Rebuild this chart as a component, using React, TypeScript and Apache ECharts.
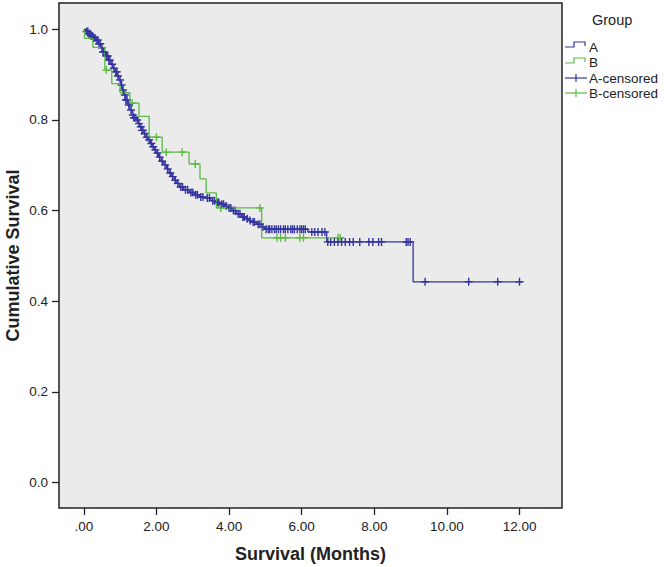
import React, { useEffect, useRef } from "react";
import * as echarts from "echarts";

// Group A Kaplan-Meier steps (months, survival after the event)
const aTimes = [0.05, 0.12, 0.18, 0.25, 0.33, 0.40, 0.47, 0.53, 0.60, 0.69, 0.75, 0.80, 0.86, 0.92, 0.97, 1.02, 1.06, 1.10, 1.16, 1.21, 1.27, 1.33, 1.38, 1.44, 1.49, 1.55, 1.60, 1.66, 1.71, 1.77, 1.83, 1.89, 1.94, 1.99, 2.06, 2.13, 2.20, 2.28, 2.35, 2.42, 2.49, 2.56, 2.63, 2.75, 2.90, 3.05, 3.18, 3.35, 3.50, 3.62, 3.75, 3.88, 3.95, 4.08, 4.20, 4.34, 4.45, 4.55, 4.62, 4.75, 4.90, 4.98, 6.17, 6.69, 9.07];
const aSurv = [0.995, 0.990, 0.985, 0.981, 0.976, 0.968, 0.959, 0.950, 0.941, 0.932, 0.923, 0.914, 0.906, 0.897, 0.888, 0.877, 0.866, 0.855, 0.844, 0.833, 0.822, 0.811, 0.805, 0.800, 0.792, 0.785, 0.777, 0.770, 0.762, 0.756, 0.748, 0.741, 0.734, 0.727, 0.718, 0.709, 0.701, 0.692, 0.683, 0.675, 0.667, 0.660, 0.652, 0.646, 0.640, 0.635, 0.630, 0.628, 0.622, 0.618, 0.614, 0.610, 0.606, 0.600, 0.593, 0.586, 0.582, 0.578, 0.575, 0.570, 0.564, 0.559, 0.553, 0.531, 0.443];
const aEnd = 12.08;
const aCensor = [0.08, 0.11, 0.14, 0.17, 0.2, 0.24, 0.27, 0.31, 0.36, 0.39, 0.42, 0.45, 0.5, 0.53, 0.56, 0.62, 0.66, 0.69, 0.72, 0.78, 0.83, 0.88, 0.91, 0.94, 1.0, 1.04, 1.08, 1.13, 1.16, 1.19, 1.24, 1.3, 1.35, 1.38, 1.41, 1.47, 1.52, 1.57, 1.6, 1.63, 1.68, 1.74, 1.8, 1.86, 1.91, 1.97, 2.03, 2.09, 2.16, 2.24, 2.31, 2.38, 2.45, 2.52, 2.59, 2.67, 2.72, 2.8, 2.86, 2.95, 3.0, 3.08, 3.13, 3.22, 3.28, 3.4, 3.46, 3.55, 3.6, 3.68, 3.72, 3.8, 3.85, 3.92, 4.0, 4.05, 4.12, 4.17, 4.25, 4.3, 4.38, 4.42, 4.5, 4.58, 4.66, 4.7, 4.8, 4.85, 4.93, 5.02, 5.08, 5.12, 5.18, 5.25, 5.3, 5.36, 5.42, 5.5, 5.55, 5.62, 5.7, 5.75, 5.8, 5.88, 5.95, 6.0, 6.05, 6.1, 6.28, 6.36, 6.45, 6.56, 6.64, 6.72, 6.8, 6.9, 7.0, 7.1, 7.2, 7.32, 7.42, 7.6, 7.85, 7.96, 8.12, 8.2, 8.88, 8.93, 8.99, 9.4, 10.6, 11.4, 12.0];

// Group B Kaplan-Meier steps
const bTimes = [0.02, 0.25, 0.58, 0.77, 1.0, 1.27, 1.52, 1.8, 2.16, 2.9, 3.2, 3.37, 3.65, 4.9];
const bSurv = [0.98, 0.96, 0.91, 0.88, 0.86, 0.837, 0.808, 0.762, 0.729, 0.703, 0.670, 0.639, 0.606, 0.540];
const bEnd = 7.08;
const bCensor = [0.62, 1.33, 2.0, 2.27, 2.71, 3.07, 3.77, 4.85, 5.32, 5.42, 5.55, 5.95, 6.05, 7.0, 7.06];

// Axis ticks
const xTickMin = 0;
const xTickMax = 12;
const xTickStep = 2;
const yTickMin = 0;
const yTickMax = 1;
const yTickStep = 0.2;

const xTitle = "Survival (Months)";
const yTitle = "Cumulative Survival";
const groupTitle = "Group";
const groupNames = ["A", "B", "A-censored", "B-censored"];
const colorA = "#3535A0";
const colorB = "#5CBB45";
const FONT = "'Liberation Sans', Arial, sans-serif";
const PLUS = "path://M3.3,0H4.7V3.3H8V4.7H4.7V8H3.3V4.7H0V3.3H3.3Z";

function stepLine(times: number[], surv: number[], end: number) {
  const pts: number[][] = [[0, 1]];
  times.forEach((t, i) => pts.push([t, surv[i]]));
  pts.push([end, surv[surv.length - 1]]);
  return pts;
}
function survAt(times: number[], surv: number[], t: number) {
  let s = 1;
  for (let i = 0; i < times.length; i++) if (times[i] <= t) s = surv[i];
  return s;
}

// plot box geometry and visible ranges
const W = 664, H = 567;
const box = { left: 59, right: 102, top: 3, bottom: 59 };
const xMin = -0.683, xMax = 13.17;
const yMin = -0.056, yMax = 1.058;

export default function App() {
  const ref = useRef<HTMLDivElement>(null);
  useEffect(() => {
    const chart = echarts.init(ref.current!, undefined, { renderer: "svg" });
    const legendText = (text: string, x: number, y: number, size = 13.5) => ({
      type: "text",
      x,
      y,
      style: { text, font: `${size}px ${FONT}`, fill: "#222", textAlign: "left", textVerticalAlign: "middle" },
    });
    const plotW = W - box.left - box.right;
    const plotH = H - box.top - box.bottom;
    // tick grids aligned with the tick range inside the data grid
    const xTickGrid = {
      left: box.left + ((xTickMin - xMin) / (xMax - xMin)) * plotW,
      right: box.right + ((xMax - xTickMax) / (xMax - xMin)) * plotW,
      top: box.top,
      bottom: box.bottom,
    };
    const yTickGrid = {
      left: box.left,
      right: box.right,
      top: box.top + ((yMax - yTickMax) / (yMax - yMin)) * plotH,
      bottom: box.bottom + ((yTickMin - yMin) / (yMax - yMin)) * plotH,
    };
    const hidden = { show: false };
    const tickStyle = { show: true, inside: false, length: 7, lineStyle: { color: "#222", width: 1.3 } };
    const labelStyle = { fontFamily: FONT, fontSize: 13.5, color: "#222", margin: 11 };
    chart.setOption({
      animation: false,
      backgroundColor: "#fff",
      grid: [
        { ...box, show: true, backgroundColor: "#EBEBEB", borderColor: "#222", borderWidth: 1.5 },
        { ...xTickGrid, show: false },
        { ...yTickGrid, show: false },
      ],
      xAxis: [
        {
          gridIndex: 0,
          type: "value",
          min: xMin,
          max: xMax,
          axisLine: hidden,
          axisTick: hidden,
          axisLabel: hidden,
          splitLine: hidden,
        },
        {
          gridIndex: 1,
          type: "value",
          position: "bottom",
          min: xTickMin,
          max: xTickMax,
          interval: xTickStep,
          axisLine: { show: false, onZero: false },
          axisTick: tickStyle,
          axisLabel: { ...labelStyle, formatter: (v: number) => (v === 0 ? ".00" : v.toFixed(2)) },
          splitLine: hidden,
        },
        { gridIndex: 2, type: "value", show: false },
      ],
      yAxis: [
        {
          gridIndex: 0,
          type: "value",
          min: yMin,
          max: yMax,
          axisLine: hidden,
          axisTick: hidden,
          axisLabel: hidden,
          splitLine: hidden,
        },
        { gridIndex: 1, type: "value", show: false },
        {
          gridIndex: 2,
          type: "value",
          position: "left",
          min: yTickMin,
          max: yTickMax,
          interval: yTickStep,
          axisLine: { show: false, onZero: false },
          axisTick: tickStyle,
          axisLabel: { ...labelStyle, formatter: (v: number) => v.toFixed(1) },
          splitLine: hidden,
        },
      ],
      series: [
        {
          name: groupNames[1],
          type: "line",
          step: "end",
          showSymbol: false,
          data: stepLine(bTimes, bSurv, bEnd),
          lineStyle: { color: colorB, width: 1.3 },
          itemStyle: { color: colorB },
        },
        {
          name: groupNames[3],
          type: "scatter",
          symbol: PLUS,
          symbolSize: 8,
          data: bCensor.map((t) => [t, survAt(bTimes, bSurv, t)]),
          itemStyle: { color: colorB, opacity: 1 },
        },
        {
          name: groupNames[0],
          type: "line",
          step: "end",
          showSymbol: false,
          data: stepLine(aTimes, aSurv, aEnd),
          lineStyle: { color: colorA, width: 1.3 },
          itemStyle: { color: colorA },
        },
        {
          name: groupNames[2],
          type: "scatter",
          symbol: PLUS,
          symbolSize: 8,
          data: aCensor.map((t) => [t, survAt(aTimes, aSurv, t)]),
          itemStyle: { color: colorA, opacity: 1 },
        },
      ],
      graphic: [
        {
          type: "text",
          x: box.left + plotW / 2,
          y: 554,
          style: { text: xTitle, font: `bold 18px ${FONT}`, fill: "#222", textAlign: "center", textVerticalAlign: "middle" },
        },
        {
          type: "text",
          x: 12.5,
          y: box.top + plotH / 2,
          rotation: Math.PI / 2,
          style: { text: yTitle, font: `bold 18px ${FONT}`, fill: "#222", textAlign: "center", textVerticalAlign: "middle" },
        },
        legendText(groupTitle, 592, 20, 14.5),
        {
          type: "polyline",
          shape: { points: [[565, 47], [574, 47], [574, 42], [585, 42], [585, 46]] },
          style: { stroke: colorA, lineWidth: 1.2, fill: "none" },
        },
        legendText(groupNames[0], 589, 47),
        {
          type: "polyline",
          shape: { points: [[565, 63], [574, 63], [574, 58], [585, 58], [585, 62]] },
          style: { stroke: colorB, lineWidth: 1.2, fill: "none" },
        },
        legendText(groupNames[1], 589, 62),
        { type: "line", shape: { x1: 565, y1: 78, x2: 587, y2: 78 }, style: { stroke: colorA, lineWidth: 1.2 } },
        { type: "line", shape: { x1: 576, y1: 74, x2: 576, y2: 82 }, style: { stroke: colorA, lineWidth: 1.2 } },
        legendText(groupNames[2], 589, 78),
        { type: "line", shape: { x1: 565, y1: 93, x2: 587, y2: 93 }, style: { stroke: colorB, lineWidth: 1.2 } },
        { type: "line", shape: { x1: 576, y1: 89, x2: 576, y2: 97 }, style: { stroke: colorB, lineWidth: 1.2 } },
        legendText(groupNames[3], 589, 93),
      ],
    });
    return () => chart.dispose();
  }, []);
  return <div ref={ref} style={{ position: "fixed", left: 0, top: 0, width: W, height: H }} />;
}
